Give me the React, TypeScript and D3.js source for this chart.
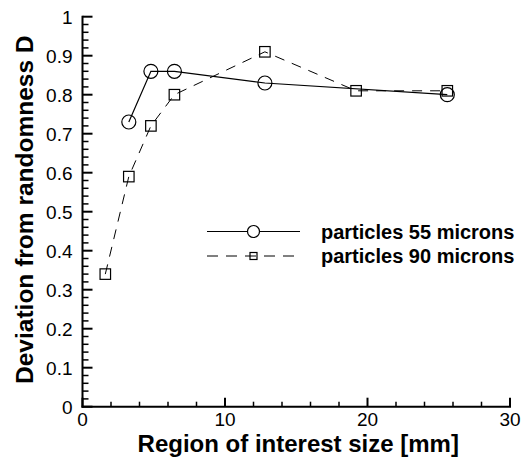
import React from "react";
import * as d3 from "d3";

const xs55 = [3.25, 4.8, 6.45, 12.8, 25.6];
const ys55 = [0.73, 0.86, 0.86, 0.83, 0.8];
const xs90 = [1.6, 3.25, 4.8, 6.45, 12.8, 19.2, 25.6];
const ys90 = [0.34, 0.59, 0.72, 0.8, 0.91, 0.81, 0.81];
const xMajor = [0, 10, 20, 30];
const yMajor = [0, 0.1, 0.2, 0.3, 0.4, 0.5, 0.6, 0.7, 0.8, 0.9, 1];
const legendLabels = ["particles 55 microns", "particles 90 microns"];
const xTitle = "Region of interest size [mm]";
const yTitle = "Deviation from randomness D";

const W = 522, H = 460;
const L = 82.5, R = 510, T = 16.7, B = 406.7;
const font = "Liberation Sans, Arial, sans-serif";

export default function App() {
  const x = d3.scaleLinear().domain([0, 30]).range([L, R]);
  const y = d3.scaleLinear().domain([0, 1]).range([B, T]);
  const xMinor = d3.range(0, 30.001, 2).filter(v => !xMajor.includes(v));
  const yMinor = d3.range(0, 51).map(i => i / 50).filter(v => Math.round(v * 50) % 5 !== 0);
  const line = d3.line<[number, number]>().x(d => x(d[0])).y(d => y(d[1]));
  const d55 = xs55.map((v, i) => [v, ys55[i]] as [number, number]);
  const d90 = xs90.map((v, i) => [v, ys90[i]] as [number, number]);
  const sq = 10.5;
  return (
    <svg width={W} height={H} style={{ position: "absolute", left: 0, top: 0, background: "#fff" }} fontFamily={font}>
      <rect width={W} height={H} fill="#fff" />
      {/* axes */}
      <line x1={L} x2={L} y1={T - 1} y2={B + 1} stroke="#000" strokeWidth={2} />
      <line x1={L - 1} x2={R + 1} y1={B} y2={B} stroke="#000" strokeWidth={2} />
      {yMajor.map(v => (
        <g key={"ym" + v}>
          <line x1={L} x2={L + 10} y1={y(v)} y2={y(v)} stroke="#000" strokeWidth={2} />
          <text x={L - 10} y={y(v) + 2} fontSize={19} textAnchor="end" dominantBaseline="middle">{String(v)}</text>
        </g>
      ))}
      {yMinor.map(v => (
        <line key={"yn" + v} x1={L} x2={L + 6} y1={y(v)} y2={y(v)} stroke="#000" strokeWidth={1.5} />
      ))}
      {xMajor.map(v => (
        <g key={"xm" + v}>
          <line x1={x(v)} x2={x(v)} y1={B} y2={B - 9} stroke="#000" strokeWidth={2} />
          <text x={x(v)} y={B + 19.5} fontSize={19} textAnchor="middle">{String(v)}</text>
        </g>
      ))}
      {xMinor.map(v => (
        <line key={"xn" + v} x1={x(v)} x2={x(v)} y1={B} y2={B - 5} stroke="#000" strokeWidth={1.5} />
      ))}
      <text x={(L + R) / 2 + 2} y={452} fontSize={24} fontWeight="bold" textAnchor="middle">{xTitle}</text>
      <text transform={`translate(32.5,${(T + B) / 2 - 2}) rotate(-90)`} fontSize={24.5} fontWeight="bold" textAnchor="middle">{yTitle}</text>
      {/* series 90 */}
      <path d={line(d90) || ""} fill="none" stroke="#000" strokeWidth={1} strokeDasharray="10,8" />
      {d90.map((p, i) => (
        <rect key={"s" + i} x={x(p[0]) - sq / 2} y={y(p[1]) - sq / 2} width={sq} height={sq} fill="none" stroke="#000" strokeWidth={1.2} />
      ))}
      {/* series 55 */}
      <path d={line(d55) || ""} fill="none" stroke="#000" strokeWidth={1.2} />
      {d55.map((p, i) => (
        <circle key={"c" + i} cx={x(p[0])} cy={y(p[1])} r={7} fill="none" stroke="#000" strokeWidth={1.2} />
      ))}
      {/* legend */}
      <line x1={207} x2={300} y1={231.5} y2={231.5} stroke="#000" strokeWidth={1.2} />
      <circle cx={253.5} cy={231.5} r={6} fill="#fff" stroke="#000" strokeWidth={1.2} />
      <text x={321} y={238.5} fontSize={20} fontWeight="bold">{legendLabels[0]}</text>
      <line x1={207} x2={300} y1={256} y2={256} stroke="#000" strokeWidth={1} strokeDasharray="11,8" />
      <rect x={250} y={252.5} width={7} height={7} fill="none" stroke="#000" strokeWidth={1.2} />
      <text x={321} y={263} fontSize={20} fontWeight="bold">{legendLabels[1]}</text>
    </svg>
  );
}
